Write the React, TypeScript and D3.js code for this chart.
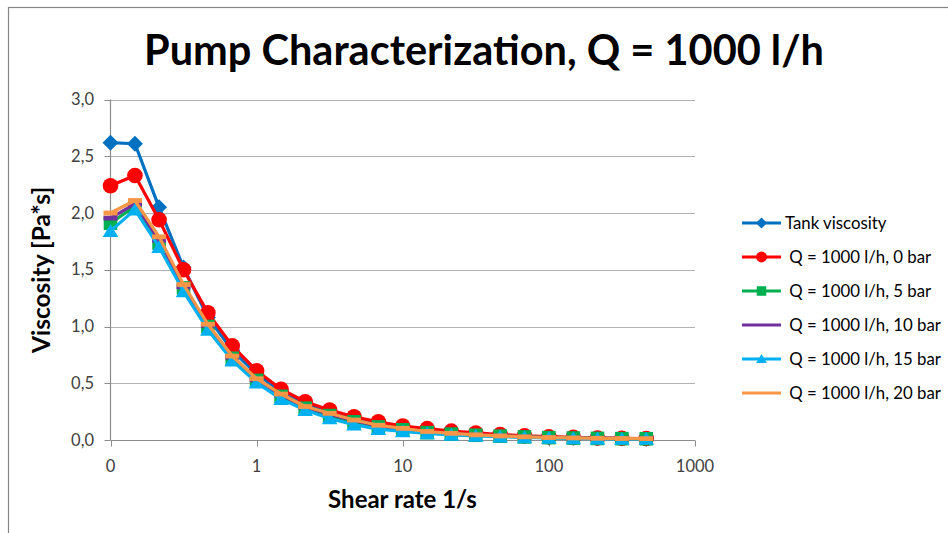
import React from "react";
import * as d3 from "d3";

const shearRates = [0.1, 0.147, 0.215, 0.316, 0.464, 0.681, 1, 1.47, 2.15, 3.16, 4.64, 6.81, 10, 14.7, 21.5, 31.6, 46.4, 68.1, 100, 147, 215, 316, 464];

const tankViscosity = [2.62, 2.61, 2.05, 1.52, 1.08, 0.79, 0.58, 0.43, 0.32, 0.24, 0.19, 0.15, 0.115, 0.09, 0.07, 0.055, 0.042, 0.032, 0.025, 0.02, 0.016, 0.013, 0.011];
const bar0 = [2.24, 2.33, 1.94, 1.5, 1.12, 0.83, 0.61, 0.447, 0.337, 0.264, 0.205, 0.16, 0.123, 0.1, 0.078, 0.062, 0.048, 0.037, 0.029, 0.023, 0.018, 0.015, 0.013];
const bar5 = [1.91, 2.06, 1.735, 1.34, 1.0, 0.72, 0.525, 0.385, 0.28, 0.215, 0.16, 0.115, 0.09, 0.065, 0.052, 0.042, 0.034, 0.027, 0.021, 0.017, 0.014, 0.012, 0.011];
const bar10 = [1.955, 2.08, 1.76, 1.35, 1.01, 0.73, 0.53, 0.395, 0.29, 0.225, 0.17, 0.125, 0.097, 0.072, 0.056, 0.045, 0.036, 0.028, 0.022, 0.018, 0.015, 0.013, 0.012];
const bar15 = [1.84, 2.03, 1.7, 1.31, 0.97, 0.7, 0.505, 0.36, 0.264, 0.19, 0.135, 0.095, 0.075, 0.058, 0.046, 0.037, 0.03, 0.024, 0.019, 0.015, 0.012, 0.01, 0.009];
const bar20 = [2.0, 2.11, 1.79, 1.37, 1.02, 0.74, 0.54, 0.405, 0.295, 0.235, 0.176, 0.13, 0.103, 0.075, 0.059, 0.046, 0.036, 0.028, 0.022, 0.018, 0.015, 0.013, 0.012];

const seriesNames = ["Tank viscosity", " Q = 1000 l/h, 0 bar", " Q = 1000 l/h, 5 bar", " Q = 1000 l/h, 10 bar", " Q = 1000 l/h, 15 bar", " Q = 1000 l/h, 20 bar"];
const seriesColors = ["#0070C0", "#FF0000", "#00B050", "#7030A0", "#00B0F0", "#F79646"];
const seriesMarkers = ["diamond", "circle", "square", "dash", "triangle", "dash"];
const seriesValues = [tankViscosity, bar0, bar5, bar10, bar15, bar20];

const xTickValues = [0.1, 1, 10, 100, 1000];
const xTickLabels = ["0", "1", "10", "100", "1000"];
const yTickValues = [0, 0.5, 1, 1.5, 2, 2.5, 3];
const yTickLabels = ["0,0", "0,5", "1,0", "1,5", "2,0", "2,5", "3,0"];

const title = "Pump Characterization, Q = 1000 l/h";
const xTitle = "Shear rate 1/s";
const yTitle = "Viscosity [Pa*s]";

const FONT = "Lato, 'Open Sans', sans-serif";

function Marker({ type, x, y, color, s }: { type: string; x: number; y: number; color: string; s: number }) {
  if (type === "diamond") {
    const h = 8 * s;
    return <path d={`M${x},${y - h}L${x + h},${y}L${x},${y + h}L${x - h},${y}Z`} fill={color} />;
  }
  if (type === "circle") return <circle cx={x} cy={y} r={7.8 * s} fill={color} />;
  if (type === "square") {
    const h = 6.8 * s;
    return <rect x={x - h} y={y - h} width={2 * h} height={2 * h} fill={color} />;
  }
  if (type === "triangle") {
    const w = 7.8 * s;
    const h = 13 * s;
    return <path d={`M${x},${y - h * 0.55}L${x + w},${y + h * 0.45}L${x - w},${y + h * 0.45}Z`} fill={color} />;
  }
  if (type === "dash") {
    return <rect x={x - 7 * s} y={y - 2.4 * s} width={14 * s} height={4.8 * s} fill={color} />;
  }
  return null;
}

export default function App() {
  const W = 948;
  const H = 533;
  const x = d3.scaleLog().domain([0.1, 1000]).range([110.5, 695]);
  const y = d3.scaleLinear().domain([0, 3]).range([440, 99.5]);
  const line = d3
    .line<[number, number]>()
    .x((d) => x(d[0]))
    .y((d) => y(d[1]));

  const legendY = d3.scaleLinear().domain([0, 5]).range([223, 393]);

  return (
    <svg width={W} height={H} style={{ position: "absolute", left: 0, top: 0, background: "#fff" }} fontFamily={FONT}>
      <rect x={0} y={0} width={W} height={H} fill="#fff" />
      <rect x={8.5} y={7.5} width={W + 20} height={H + 20} fill="none" stroke="#868686" strokeWidth={1.2} />
      <text x={484} y={65} textAnchor="middle" fontSize={41.5} fontWeight={700} fill="#000">
        {title}
      </text>

      {/* gridlines */}
      {yTickValues.filter((v) => v > 0).map((v) => (
        <line key={"g" + v} x1={110.5} x2={695} y1={Math.round(y(v)) + 0.5} y2={Math.round(y(v)) + 0.5} stroke="#b3b3b3" strokeWidth={1.2} />
      ))}
      {/* y axis */}
      <line x1={110.5} x2={110.5} y1={y(3)} y2={y(0)} stroke="#8c8c8c" strokeWidth={1.2} />
      {yTickValues.map((v, i) => (
        <g key={"yt" + v}>
          <line x1={104.5} x2={110.5} y1={Math.round(y(v)) + 0.5} y2={Math.round(y(v)) + 0.5} stroke="#8c8c8c" />
          <text x={94} y={y(v) + 5.5} textAnchor="end" fontSize={16.5} fill="#404040">
            {yTickLabels[i]}
          </text>
        </g>
      ))}
      {/* x axis */}
      <line x1={110.5} x2={695} y1={440.5} y2={440.5} stroke="#8c8c8c" strokeWidth={1.2} />
      {xTickValues.map((v, i) => (
        <g key={"xt" + v}>
          <line x1={Math.round(x(v)) + 0.5} x2={Math.round(x(v)) + 0.5} y1={440.5} y2={446.5} stroke="#8c8c8c" />
          <text x={x(v)} y={472} textAnchor="middle" fontSize={16.5} fill="#404040">
            {xTickLabels[i]}
          </text>
        </g>
      ))}
      <text x={402.5} y={508} textAnchor="middle" fontSize={24} fontWeight={700} fill="#000">
        {xTitle}
      </text>
      <text transform={`translate(50,270) rotate(-90)`} textAnchor="middle" fontSize={24.5} fontWeight={700} fill="#000">
        {yTitle}
      </text>

      {/* series */}
      {seriesValues.map((vals, si) => {
        const pts = shearRates.map((r, i) => [r, vals[i]] as [number, number]);
        return (
          <g key={"s" + si}>
            <path d={line(pts) || ""} fill="none" stroke={seriesColors[si]} strokeWidth={3.2} strokeLinejoin="round" />
            {pts.map((p, i) => (
              <Marker key={i} type={seriesMarkers[si]} x={x(p[0])} y={y(p[1])} color={seriesColors[si]} s={1} />
            ))}
          </g>
        );
      })}

      {/* legend */}
      {seriesNames.map((name, i) => {
        const ly = legendY(i);
        return (
          <g key={"l" + i}>
            <line x1={742} x2={781} y1={ly} y2={ly} stroke={seriesColors[i]} strokeWidth={3.2} />
            {seriesMarkers[i] !== "dash" && <Marker type={seriesMarkers[i]} x={761.5} y={ly} color={seriesColors[i]} s={0.7} />}
            <text x={785} y={ly + 5.5} fontSize={16.8} fill="#000" style={{ whiteSpace: "pre" }}>
              {name}
            </text>
          </g>
        );
      })}
    </svg>
  );
}
